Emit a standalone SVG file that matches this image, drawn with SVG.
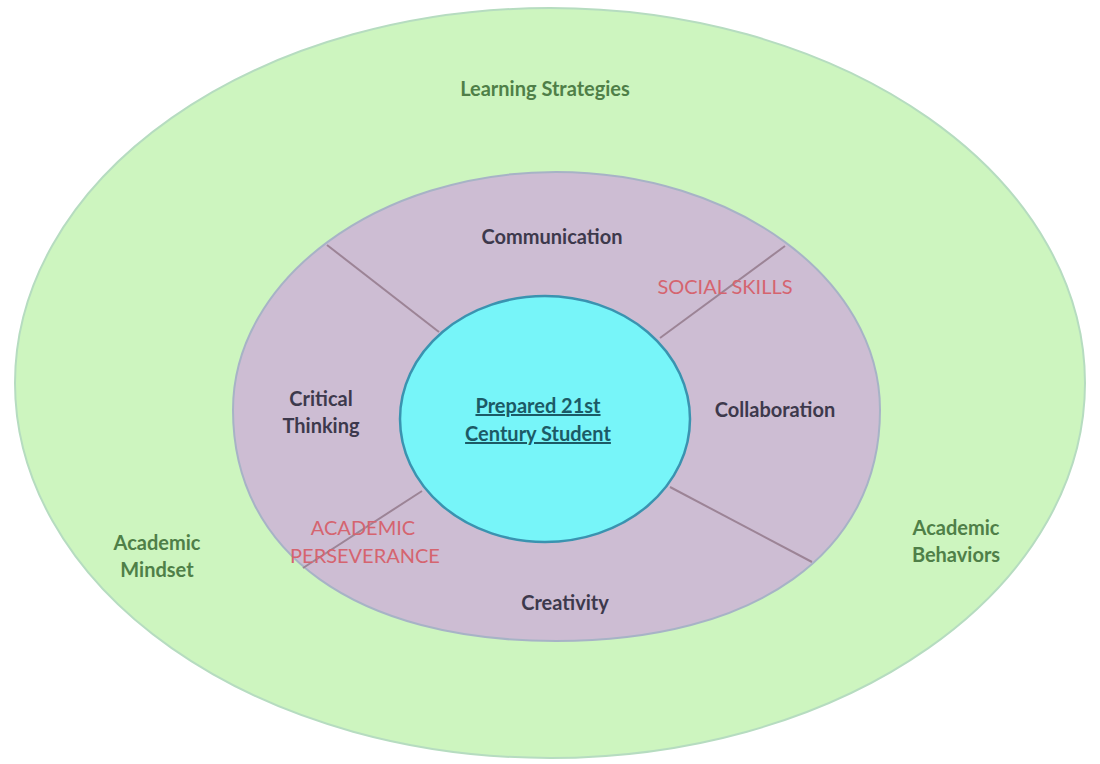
<svg xmlns="http://www.w3.org/2000/svg" width="1100" height="764" viewBox="0 0 1100 764">
<style>
text{font-family:Lato,"Open Sans","Liberation Sans",sans-serif;text-anchor:middle;font-weight:bold;font-size:20px}
.g{fill:#4f7f48}
.d{fill:#3d394c}
.r{fill:#d5646f;font-weight:normal}
.c{fill:#1c5a66;text-decoration:underline}
.div{stroke:#9c8496;stroke-width:2}
</style>
<rect width="1100" height="764" fill="#ffffff"/>
<g id="outer">
<ellipse cx="550" cy="383" rx="535" ry="375" fill="#cdf5bf" stroke="#b6dcc0" stroke-width="2"/>
<text class="g" x="545" y="96">Learning Strategies</text>
<text class="g" x="157" y="550">Academic</text>
<text class="g" x="157" y="577">Mindset</text>
<text class="g" x="956" y="535">Academic</text>
<text class="g" x="956" y="562">Behaviors</text>
</g>
<g id="ring">
<path d="M233,410 C233,279 378,172 556,172 C734,172 880,279 880,410 C880,553 756,641 556,641 C356,641 233,553 233,410 Z" fill="#cdbdd3" stroke="#a7b3c6" stroke-width="2"/>
</g>
<g id="connectors">
<line class="div" x1="327" y1="245" x2="439" y2="332"/>
<line class="div" x1="785" y1="246" x2="660" y2="338"/>
<line class="div" x1="422" y1="491" x2="303" y2="568"/>
<line class="div" x1="670" y1="487" x2="812" y2="562"/>
</g>
<g id="core">
<ellipse cx="545" cy="419" rx="145" ry="123" fill="#77f5f9" stroke="#3a93b0" stroke-width="2.5"/>
<text class="c" x="538" y="413">Prepared 21st</text>
<text class="c" x="538" y="441">Century Student</text>
</g>
<g id="communication"><text class="d" x="552" y="244">Communication</text></g>
<g id="collaboration"><text class="d" x="775" y="417">Collaboration</text></g>
<g id="critical"><text class="d" x="321" y="406">Critical</text><text class="d" x="321" y="433">Thinking</text></g>
<g id="creativity"><text class="d" x="565" y="610">Creativity</text></g>
<g id="social"><text class="r" x="725" y="294">SOCIAL SKILLS</text></g>
<g id="perseverance"><text class="r" x="363" y="535">ACADEMIC</text><text class="r" x="365" y="563">PERSEVERANCE</text></g>
</svg>
